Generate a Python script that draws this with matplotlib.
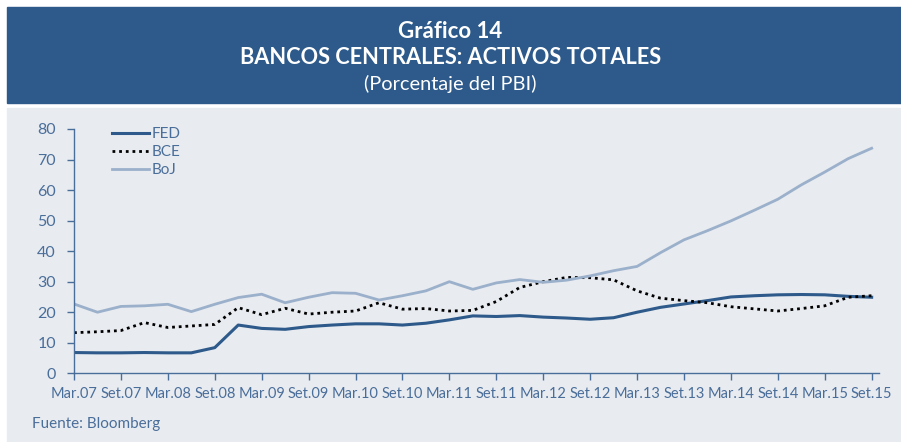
import matplotlib.pyplot as plt
from matplotlib.patches import Rectangle

# quarterly data, Mar.07 .. Set.15 (35 points)
fed = [6.8, 6.7, 6.7, 6.8, 6.7, 6.7, 8.4, 15.8, 14.7, 14.4, 15.3, 15.8,
       16.2, 16.2, 15.8, 16.4, 17.5, 18.8, 18.6, 18.9, 18.4, 18.1, 17.7,
       18.2, 20.0, 21.6, 22.7, 23.8, 25.0, 25.4, 25.7, 25.8, 25.7, 25.2, 24.9]
bce = [13.3, 13.6, 14.0, 16.6, 15.0, 15.5, 16.0, 21.5, 19.2, 21.3, 19.4, 20.0,
       20.4, 23.1, 21.0, 21.2, 20.4, 20.6, 23.5, 28.1, 30.0, 31.4, 31.3,
       30.6, 27.0, 24.6, 23.8, 23.1, 21.8, 21.1, 20.4, 21.2, 22.1, 24.9, 25.4]
boj = [22.7, 20.0, 21.9, 22.1, 22.6, 20.2, 22.6, 24.8, 25.9, 23.1, 24.9, 26.4,
       26.2, 24.0, 25.4, 27.0, 30.0, 27.5, 29.6, 30.7, 29.8, 30.5, 31.9,
       33.6, 35.0, 39.5, 43.7, 46.7, 49.9, 53.4, 57.0, 61.7, 65.9, 70.3, 73.7]
tick_labels = ['Mar.07', 'Set.07', 'Mar.08', 'Set.08', 'Mar.09', 'Set.09',
               'Mar.10', 'Set.10', 'Mar.11', 'Set.11', 'Mar.12', 'Set.12',
               'Mar.13', 'Set.13', 'Mar.14', 'Set.14', 'Mar.15', 'Set.15']

header_col = '#2D5A8A'
panel_col = '#E8EBF0'
text_col = '#4A6E9A'
font = 'Lato'

fig = plt.figure(figsize=(9.01, 4.42), dpi=100)
W, H = 901, 442

# header band and grey panel
fig.patches.append(Rectangle((7 / W, 1 - 103 / H), 1 - 7 / W, 96 / H,
                             transform=fig.transFigure, color=header_col, zorder=-2))
fig.patches.append(Rectangle((7 / W, 0), 1 - 7 / W, 1 - 108 / H,
                             transform=fig.transFigure, color=panel_col, zorder=-2))

fig.text(0.5, 1 - 31 / H, 'Gráfico 14', ha='center', va='center', color='white',
         fontsize=16, fontweight='bold', family=font)
fig.text(0.5, 1 - 57 / H, 'BANCOS CENTRALES: ACTIVOS TOTALES', ha='center', va='center',
         color='white', fontsize=15.7, fontweight='bold', family=font)
fig.text(0.5, 1 - 84 / H, '(Porcentaje del PBI)', ha='center', va='center', color='white',
         fontsize=14.4, family=font)
fig.text(32 / W, 1 - 424 / H, 'Fuente: Bloomberg', ha='left', va='center', color=text_col,
         fontsize=11, family=font)

ax = fig.add_axes([74 / W, 1 - 373.3 / H, (878.7 - 74) / W, (373.3 - 129) / H])
ax.set_zorder(1)
ax.set_facecolor(panel_col)
x = list(range(len(fed)))
ax.plot(x, fed, color='#2D5A8A', lw=2.2, label='FED')
ax.plot(x, bce, color='black', lw=2.0, linestyle=(0, (1, 1.4)), label='BCE')
ax.plot(x, boj, color='#9BB0CB', lw=2.0, label='BoJ')

ax.set_xlim(0, 34.3)
ax.set_ylim(0, 80)
ax.set_yticks(range(0, 81, 10))
ax.set_xticks(range(0, 35, 2))
ax.set_xticklabels(tick_labels)
for s in ['top', 'right']:
    ax.spines[s].set_visible(False)
for s in ['left', 'bottom']:
    ax.spines[s].set_color('#4A6E9A')
    ax.spines[s].set_linewidth(1.0)
ax.tick_params(axis='y', length=5, width=1, color='#4A6E9A', pad=8,
               labelcolor=text_col, labelsize=11.5)
ax.tick_params(axis='x', length=5, width=1, color='#4A6E9A', pad=5,
               labelcolor=text_col, labelsize=10.5)
for lab in ax.get_xticklabels() + ax.get_yticklabels():
    lab.set_family(font)

leg = ax.legend(loc='upper left', bbox_to_anchor=(0.03, 1.065), frameon=False,
                handlelength=2.4, handletextpad=0.2, labelspacing=0.28,
                prop={'family': font, 'size': 11})
for t in leg.get_texts():
    t.set_color(text_col)

fig.savefig('out.png', dpi=100)
